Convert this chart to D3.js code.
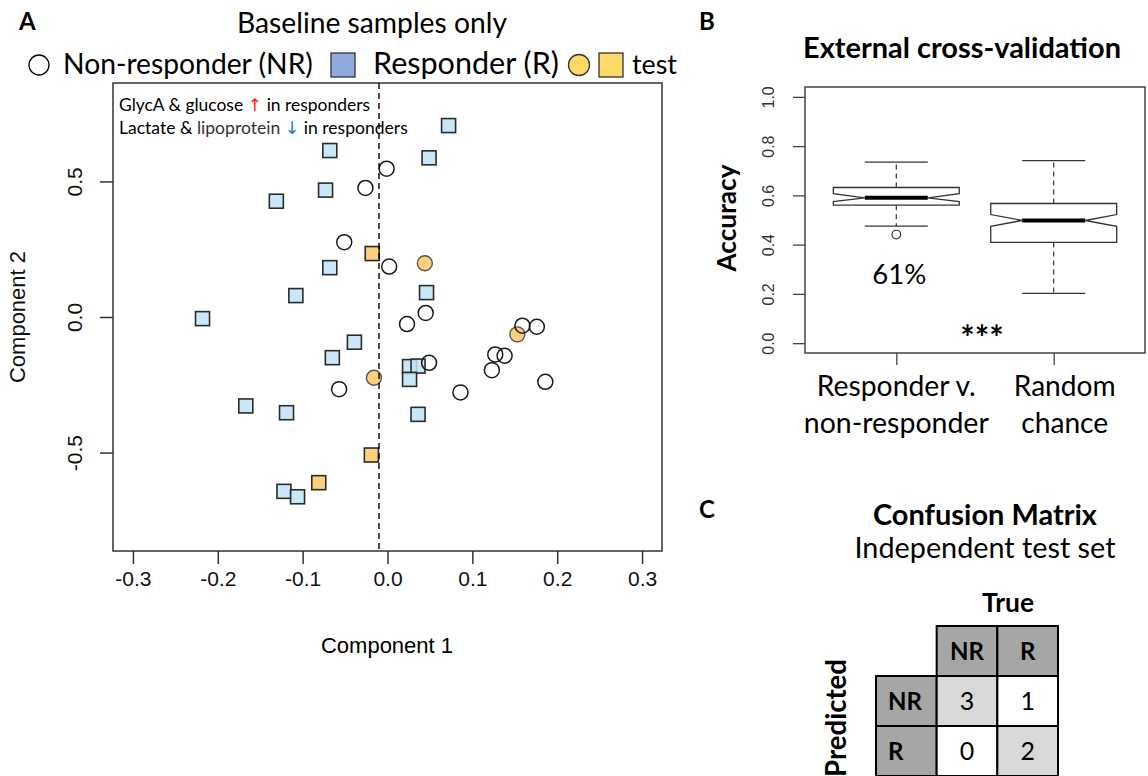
<!DOCTYPE html>
<html>
<head>
<meta charset="utf-8">
<script src="https://cdn.jsdelivr.net/npm/d3@7"></script>
<style>
  body { margin: 0; background: #fff; }
  svg { display: block; }
</style>
</head>
<body>
<svg id="chart"></svg>
<script>
// Panel A: component scores (training samples)
const responders = [
  [-0.068, 0.614], [-0.073, 0.468], [-0.131, 0.427], [-0.068, 0.182], [-0.108, 0.079],
  [-0.218, -0.006], [-0.039, -0.093], [-0.065, -0.150], [-0.167, -0.328], [-0.119, -0.353],
  [-0.122, -0.643], [-0.106, -0.663], [0.072, 0.706], [0.049, 0.587], [0.046, 0.090],
  [0.026, -0.183], [0.036, -0.181], [0.026, -0.230], [0.036, -0.359]
];
const nonResponders = [
  [-0.001, 0.547], [-0.026, 0.476], [-0.051, 0.276], [0.002, 0.186], [0.045, 0.015],
  [0.023, -0.026], [-0.057, -0.266], [0.049, -0.169], [0.086, -0.278], [0.127, -0.138],
  [0.138, -0.143], [0.123, -0.196], [0.159, -0.032], [0.176, -0.036], [0.186, -0.239]
];
// test samples
const testNonResponders = [[0.044, 0.198], [-0.016, -0.224], [0.153, -0.064]];
const testResponders = [[-0.018, 0.234], [-0.019, -0.509], [-0.081, -0.611]];
const splitLine = -0.01;
const xTicksA = [-0.3, -0.2, -0.1, 0.0, 0.1, 0.2, 0.3];
const yTicksA = [-0.5, 0.0, 0.5];

// Panel B: accuracy boxplots
const boxLabels = [["Responder v.", "non-responder"], ["Random", "chance"]];
const boxLow = [0.475, 0.202];
const boxQ1 = [0.560, 0.409];
const boxNotchLow = [0.575, 0.474];
const boxMedian = [0.590, 0.498];
const boxNotchHigh = [0.607, 0.522];
const boxQ3 = [0.632, 0.567];
const boxHigh = [0.735, 0.741];
const boxOutliers = [[1, 0.441]];
const yTicksB = [0.0, 0.2, 0.4, 0.6, 0.8, 1.0];

// Panel C: confusion matrix (rows = predicted, cols = true)
const classes = ["NR", "R"];
const counts = [[3, 1], [0, 2]];

const calibri = "Lato, 'Open Sans', sans-serif";
const arial = "'Liberation Sans', Arial, sans-serif";

const svg = d3.select("#chart")
  .attr("width", 1148)
  .attr("height", 776);

// stretch a text to the width it has in the picture
function fitWidth(sel, w) {
  const len = sel.node().getComputedTextLength();
  const fs = parseFloat(sel.attr("font-size"));
  sel.attr("font-size", (fs * w / len).toFixed(2));
  return sel;
}

function addText(x, y, txt, size, weight, family, anchor) {
  return svg.append("text")
    .attr("x", x)
    .attr("y", y)
    .attr("font-size", size)
    .attr("font-weight", weight || "normal")
    .attr("font-family", family || calibri)
    .attr("text-anchor", anchor || "middle")
    .attr("fill", "#000")
    .text(txt);
}

// ---------------- Panel A ----------------
addText(19, 30, "A", 24, "bold", calibri, "start");
fitWidth(addText(372, 33, "Baseline samples only", 26), 270);

// legend
svg.append("circle").attr("cx", 39).attr("cy", 65).attr("r", 10)
  .attr("fill", "#fff").attr("stroke", "#000").attr("stroke-width", 1.3);
fitWidth(addText(63, 74, "Non-responder (NR)", 26, "normal", calibri, "start"), 250);
svg.append("rect").attr("x", 331).attr("y", 53).attr("width", 24).attr("height", 24)
  .attr("fill", "#8faadc").attr("stroke", "#333").attr("stroke-width", 1.3);
fitWidth(addText(373, 74, "Responder (R)", 26, "normal", calibri, "start"), 186);
svg.append("circle").attr("cx", 579).attr("cy", 65).attr("r", 10.5)
  .attr("fill", "#ffd966").attr("stroke", "#333").attr("stroke-width", 1.3);
svg.append("rect").attr("x", 599).attr("y", 53).attr("width", 24).attr("height", 24)
  .attr("fill", "#ffd966").attr("stroke", "#333").attr("stroke-width", 1.3);
fitWidth(addText(632, 74, "test", 26, "normal", calibri, "start"), 45);

const xA = d3.scaleLinear().domain([-0.3235, 0.3235]).range([113, 662]);
const yA = d3.scaleLinear().domain([-0.863, 0.863]).range([551, 83]);

const gA = svg.append("g");

gA.append("rect")
  .attr("x", 113).attr("y", 83).attr("width", 549).attr("height", 468)
  .attr("fill", "none").attr("stroke", "#333").attr("stroke-width", 1.5);

// x axis
const axA = gA.append("g")
  .attr("transform", "translate(0,551)")
  .call(d3.axisBottom(xA).tickValues(xTicksA).tickSize(13).tickFormat(d => d.toFixed(1)));
axA.select(".domain").remove();
axA.selectAll("line").attr("stroke", "#333").attr("stroke-width", 1.5);
axA.selectAll("text")
  .attr("y", 20).attr("font-size", 21).attr("font-family", arial).attr("fill", "#111");

// y axis
const ayA = gA.append("g")
  .attr("transform", "translate(113,0)")
  .call(d3.axisLeft(yA).tickValues(yTicksA).tickSize(13).tickFormat(d => d.toFixed(1)));
ayA.select(".domain").remove();
ayA.selectAll("line").attr("stroke", "#333").attr("stroke-width", 1.5);
ayA.selectAll("text")
  .attr("x", 0).attr("dy", 0)
  .attr("transform", "translate(-31,0) rotate(-90)")
  .attr("text-anchor", "middle")
  .attr("font-size", 21).attr("font-family", arial).attr("fill", "#111");

addText(387, 653, "Component 1", 22, "normal", arial);
svg.append("text")
  .attr("transform", "translate(25,317) rotate(-90)")
  .attr("text-anchor", "middle")
  .attr("font-size", 22).attr("font-family", arial).attr("fill", "#111")
  .text("Component 2");

// annotation
const note1 = addText(119, 111, "", 17, "normal", calibri, "start");
note1.append("tspan").text("GlycA & glucose ");
note1.append("tspan").attr("fill", "#ff2020").attr("font-family", "'DejaVu Sans'").text("↑");
note1.append("tspan").text(" in responders");
fitWidth(note1, 251);
const note2 = addText(119, 134, "", 17, "normal", calibri, "start");
note2.append("tspan").text("Lactate & ");
note2.append("tspan").attr("fill", "#333").text("lipoprotein");
note2.append("tspan").text(" ");
note2.append("tspan").attr("fill", "#1f78c8").attr("font-family", "'DejaVu Sans'").text("↓");
note2.append("tspan").text(" in responders");
fitWidth(note2, 289);

// points
const sq = 14;
gA.selectAll("rect.resp")
  .data(responders)
  .enter()
  .append("rect")
  .attr("class", "resp")
  .attr("x", d => xA(d[0]) - sq / 2)
  .attr("y", d => yA(d[1]) - sq / 2)
  .attr("width", sq).attr("height", sq)
  .attr("fill", "#bfe3f4").attr("fill-opacity", 0.85)
  .attr("stroke", "#2b2b2b").attr("stroke-width", 1.6);

gA.selectAll("rect.testResp")
  .data(testResponders)
  .enter()
  .append("rect")
  .attr("class", "testResp")
  .attr("x", d => xA(d[0]) - sq / 2)
  .attr("y", d => yA(d[1]) - sq / 2)
  .attr("width", sq).attr("height", sq)
  .attr("fill", "#ffd07c")
  .attr("stroke", "#2b2b2b").attr("stroke-width", 1.6);

gA.selectAll("circle.testNon")
  .data(testNonResponders)
  .enter()
  .append("circle")
  .attr("class", "testNon")
  .attr("cx", d => xA(d[0]))
  .attr("cy", d => yA(d[1]))
  .attr("r", 7.5)
  .attr("fill", "#ffd07c")
  .attr("stroke", "#555").attr("stroke-width", 1.4);

gA.selectAll("circle.non")
  .data(nonResponders)
  .enter()
  .append("circle")
  .attr("class", "non")
  .attr("cx", d => xA(d[0]))
  .attr("cy", d => yA(d[1]))
  .attr("r", 7.5)
  .attr("fill", "none")
  .attr("stroke", "#1a1a1a").attr("stroke-width", 1.5);

// dashed split line
gA.append("line")
  .attr("x1", xA(splitLine)).attr("x2", xA(splitLine))
  .attr("y1", 83).attr("y2", 551)
  .attr("stroke", "#000").attr("stroke-width", 1.4)
  .attr("stroke-dasharray", "6,4");

// ---------------- Panel B ----------------
addText(699, 30, "B", 24, "bold", calibri, "start");
fitWidth(addText(962, 58, "External cross-validation", 24, "bold"), 318);

const xB = d3.scaleLinear().domain([0.42, 2.58]).range([805, 1145]);
const yB = d3.scaleLinear().domain([-0.04, 1.04]).range([353, 87]);
const gB = svg.append("g");

gB.append("rect")
  .attr("x", 805).attr("y", 87).attr("width", 340).attr("height", 266)
  .attr("fill", "none").attr("stroke", "#444").attr("stroke-width", 1.5);

const ayB = gB.append("g")
  .attr("transform", "translate(805,0)")
  .call(d3.axisLeft(yB).tickValues(yTicksB).tickSize(12).tickFormat(d => d.toFixed(1)));
ayB.select(".domain").remove();
ayB.selectAll("line").attr("stroke", "#444").attr("stroke-width", 1.3);
ayB.selectAll("text")
  .attr("x", 0).attr("dy", 0)
  .attr("transform", "translate(-31,0) rotate(-90)")
  .attr("text-anchor", "middle")
  .attr("font-size", 16).attr("font-family", arial).attr("fill", "#333");

const axB = gB.append("g")
  .attr("transform", "translate(0,353)")
  .call(d3.axisBottom(xB).tickValues([1, 2]).tickSize(12).tickFormat(""));
axB.select(".domain").remove();
axB.selectAll("line").attr("stroke", "#444").attr("stroke-width", 1.3);

// notched boxes
const halfW = xB(1.4) - xB(1);
boxLabels.forEach((lab, i) => {
  const cx = xB(i + 1);
  const pts = [
    [cx - halfW, yB(boxQ1[i])], [cx + halfW, yB(boxQ1[i])], [cx + halfW, yB(boxNotchLow[i])],
    [cx + halfW / 2, yB(boxMedian[i])], [cx + halfW, yB(boxNotchHigh[i])], [cx + halfW, yB(boxQ3[i])],
    [cx - halfW, yB(boxQ3[i])], [cx - halfW, yB(boxNotchHigh[i])], [cx - halfW / 2, yB(boxMedian[i])],
    [cx - halfW, yB(boxNotchLow[i])]
  ];
  gB.append("path")
    .attr("d", d3.line()(pts) + "Z")
    .attr("fill", "#fff").attr("stroke", "#333").attr("stroke-width", 1.3);
  gB.append("line")
    .attr("x1", cx - halfW / 2).attr("x2", cx + halfW / 2)
    .attr("y1", yB(boxMedian[i])).attr("y2", yB(boxMedian[i]))
    .attr("stroke", "#000").attr("stroke-width", 4);
  // whiskers
  [[boxQ3[i], boxHigh[i]], [boxQ1[i], boxLow[i]]].forEach(w => {
    gB.append("line")
      .attr("x1", cx).attr("x2", cx)
      .attr("y1", yB(w[0])).attr("y2", yB(w[1]))
      .attr("stroke", "#333").attr("stroke-width", 1.2)
      .attr("stroke-dasharray", "5,4");
    gB.append("line")
      .attr("x1", cx - halfW / 2).attr("x2", cx + halfW / 2)
      .attr("y1", yB(w[1])).attr("y2", yB(w[1]))
      .attr("stroke", "#333").attr("stroke-width", 1.3);
  });
});

gB.selectAll("circle.out")
  .data(boxOutliers)
  .enter()
  .append("circle")
  .attr("class", "out")
  .attr("cx", d => xB(d[0]))
  .attr("cy", d => yB(d[1]))
  .attr("r", 4.3)
  .attr("fill", "none").attr("stroke", "#333").attr("stroke-width", 1.2);

fitWidth(addText(xB(1) + 3, 284, "61%", 26), 54);
addText(982, 350, "***", 34, "bold");

// group labels
const labWidths = [[159, 185], [102, 87]];
const labShift = [0, 11];
boxLabels.forEach((lab, i) => {
  lab.forEach((line, j) => {
    fitWidth(addText(xB(i + 1) + labShift[i], 396 + j * 37, line, 26), labWidths[i][j]);
  });
});

const accLabel = svg.append("text")
  .attr("transform", "translate(736,218) rotate(-90)")
  .attr("text-anchor", "middle")
  .attr("font-size", 24).attr("font-weight", "bold").attr("font-family", calibri)
  .text("Accuracy");
fitWidth(accLabel, 107);

// ---------------- Panel C ----------------
addText(699, 518, "C", 24, "bold", calibri, "start");
fitWidth(addText(985, 525, "Confusion Matrix", 24, "bold"), 224);
fitWidth(addText(985, 558, "Independent test set", 24), 261);
fitWidth(addText(1008, 612, "True", 24, "bold"), 52);

const colC = d3.scaleBand().domain(["head"].concat(classes)).range([876, 1058]);
const rowC = d3.scaleBand().domain(["head"].concat(classes)).range([626, 776]);
const gC = svg.append("g");

// header cells
classes.forEach(c => {
  gC.append("rect")
    .attr("x", colC(c)).attr("y", rowC("head"))
    .attr("width", colC.bandwidth()).attr("height", rowC.bandwidth())
    .attr("fill", "#a6a6a6").attr("stroke", "#000").attr("stroke-width", 2);
  gC.append("rect")
    .attr("x", colC("head")).attr("y", rowC(c))
    .attr("width", colC.bandwidth()).attr("height", rowC.bandwidth())
    .attr("fill", "#a6a6a6").attr("stroke", "#000").attr("stroke-width", 2);
});

// count cells
classes.forEach((p, i) => {
  classes.forEach((t, j) => {
    gC.append("rect")
      .attr("x", colC(t)).attr("y", rowC(p))
      .attr("width", colC.bandwidth()).attr("height", rowC.bandwidth())
      .attr("fill", i === j ? "#d9d9d9" : "#fff")
      .attr("stroke", "#000").attr("stroke-width", 2);
  });
});

classes.forEach(c => {
  addText(colC(c) + colC.bandwidth() / 2, rowC("head") + 34, c, 24, "bold");
  addText(colC("head") + 12, rowC(c) + 34, c, 24, "bold", calibri, "start");
});
classes.forEach((p, i) => {
  classes.forEach((t, j) => {
    addText(colC(t) + colC.bandwidth() / 2, rowC(p) + 34, counts[i][j], 25);
  });
});

const predLabel = svg.append("text")
  .attr("transform", "translate(846,718) rotate(-90)")
  .attr("text-anchor", "middle")
  .attr("font-size", 24).attr("font-weight", "bold").attr("font-family", calibri)
  .text("Predicted");
fitWidth(predLabel, 118);
</script>
</body>
</html>
